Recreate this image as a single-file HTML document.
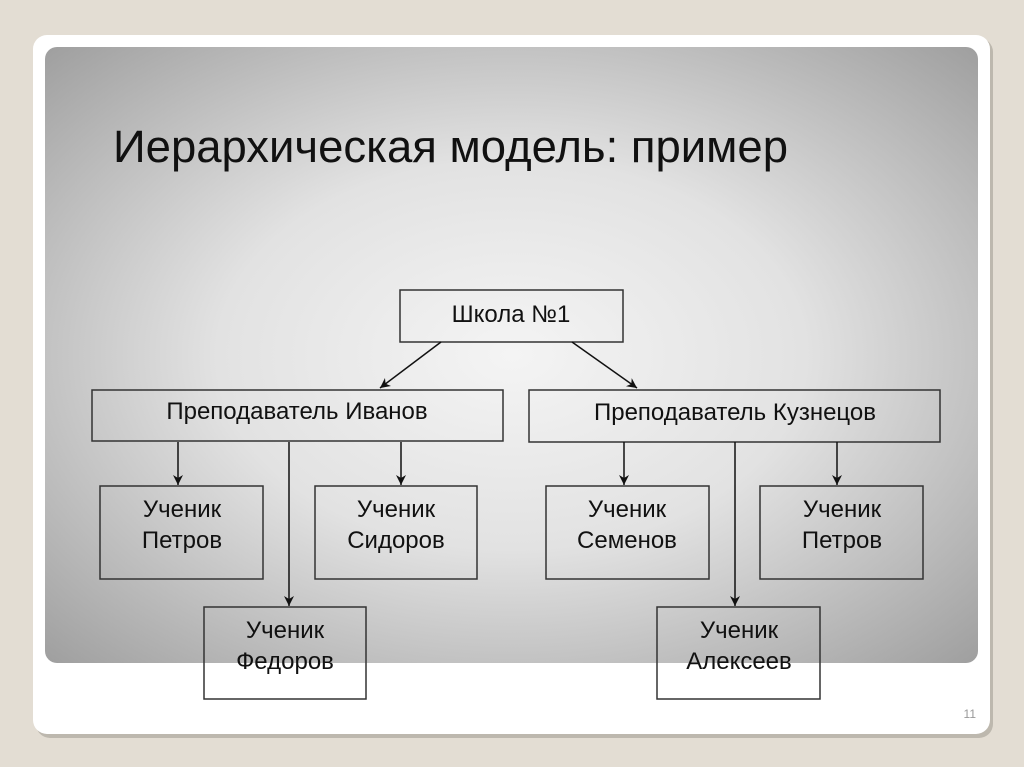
<!DOCTYPE html>
<html><head><meta charset="utf-8"><style>
html,body{margin:0;padding:0;width:1024px;height:767px;overflow:hidden;background:#e3ddd3}
</style></head><body>
<svg width="1024" height="767" viewBox="0 0 1024 767" xmlns="http://www.w3.org/2000/svg" font-family="'Liberation Sans', 'Noto Sans CJK SC', sans-serif">
<defs>
<radialGradient id="g" cx="0.5" cy="0.5" r="0.7">
<stop offset="0" stop-color="#f4f4f4"/>
<stop offset="0.45" stop-color="#e2e2e2"/>
<stop offset="1" stop-color="#a0a0a0"/>
</radialGradient>
<marker id="a" markerWidth="12" markerHeight="12" refX="10" refY="6" orient="auto" markerUnits="userSpaceOnUse">
<path d="M0,1 L10,6 L0,11 L3,6 Z" fill="#111"/>
</marker>
</defs>
<rect x="36" y="38" width="957" height="700" rx="14" fill="#bdb8ae"/>
<rect x="33" y="35" width="957" height="699" rx="14" fill="#ffffff"/>
<rect x="45" y="47" width="933" height="616" rx="12" fill="url(#g)"/>
<text x="113" y="162" font-size="45" fill="#111" textLength="675" lengthAdjust="spacingAndGlyphs">Иерархическая модель: пример</text>
<g fill="none" stroke="#333" stroke-width="1.5">
<rect x="400" y="290" width="223" height="52"/>
<rect x="92" y="390" width="411" height="51"/>
<rect x="529" y="390" width="411" height="52"/>
<rect x="100" y="486" width="163" height="93"/>
<rect x="315" y="486" width="162" height="93"/>
<rect x="546" y="486" width="163" height="93"/>
<rect x="760" y="486" width="163" height="93"/>
<rect x="204" y="607" width="162" height="92"/>
<rect x="657" y="607" width="163" height="92"/>
</g>
<g stroke="#111" stroke-width="1.5" marker-end="url(#a)">
<line x1="441" y1="342" x2="380" y2="388"/>
<line x1="572" y1="342" x2="637" y2="388"/>
<line x1="178" y1="442" x2="178" y2="485"/>
<line x1="401" y1="442" x2="401" y2="485"/>
<line x1="289" y1="442" x2="289" y2="606"/>
<line x1="624" y1="442" x2="624" y2="485"/>
<line x1="837" y1="442" x2="837" y2="485"/>
<line x1="735" y1="442" x2="735" y2="606"/>
</g>
<g font-size="24" fill="#111" text-anchor="middle">
<text x="511" y="322">Школа №1</text>
<text x="297" y="419">Преподаватель Иванов</text>
<text x="735" y="420">Преподаватель Кузнецов</text>
<text x="182" y="517">Ученик</text><text x="182" y="548">Петров</text>
<text x="396" y="517">Ученик</text><text x="396" y="548">Сидоров</text>
<text x="627" y="517">Ученик</text><text x="627" y="548">Семенов</text>
<text x="842" y="517">Ученик</text><text x="842" y="548">Петров</text>
<text x="285" y="638">Ученик</text><text x="285" y="669">Федоров</text>
<text x="739" y="638">Ученик</text><text x="739" y="669">Алексеев</text>
</g>
<text x="976" y="718" font-size="12" fill="#999" text-anchor="end">11</text>
</svg>
</body></html>
